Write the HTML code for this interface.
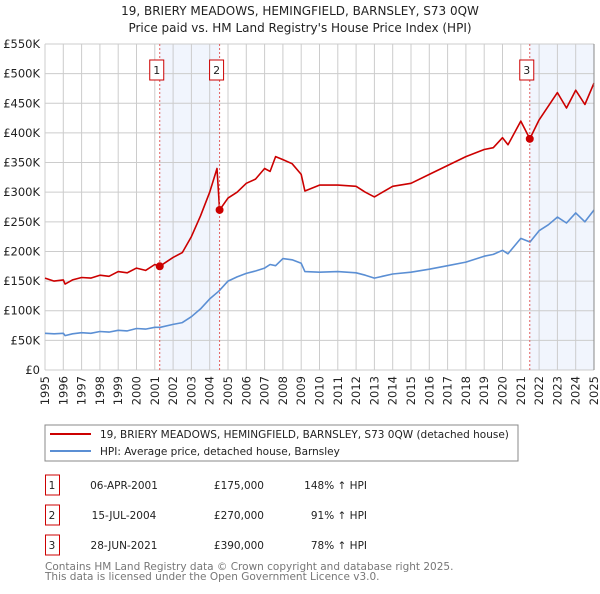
<!DOCTYPE html>
<html><head><meta charset="utf-8"><style>
body{margin:0;background:#fff;font-family:"DejaVu Sans","Liberation Sans",sans-serif;}
svg text{font-family:"DejaVu Sans","Liberation Sans",sans-serif;}
</style></head><body>
<svg id="chart" width="600" height="590" viewBox="0 0 600 590" xmlns="http://www.w3.org/2000/svg">
<text x="300" y="15" text-anchor="middle" font-size="12" fill="#222">19, BRIERY MEADOWS, HEMINGFIELD, BARNSLEY, S73 0QW</text>
<text x="300" y="32" text-anchor="middle" font-size="12" fill="#222">Price paid vs. HM Land Registry's House Price Index (HPI)</text>
<g id="shade"></g><g id="grid"></g><g id="lines"></g><g id="marks"></g><g id="axes"></g>
<rect x="45" y="425" width="473" height="36" fill="#fff" stroke="#888"/>
<line x1="50" y1="434" x2="91" y2="434" stroke="#cc0000" stroke-width="2"/>
<text x="100" y="438" font-size="10.5" fill="#222">19, BRIERY MEADOWS, HEMINGFIELD, BARNSLEY, S73 0QW (detached house)</text>
<line x1="50" y1="451" x2="91" y2="451" stroke="#5b8fd4" stroke-width="2"/>
<text x="100" y="455" font-size="10.5" fill="#222">HPI: Average price, detached house, Barnsley</text>
<g id="table" font-size="11" fill="#222"></g>
<text x="45" y="570" font-size="10.5" fill="#777">Contains HM Land Registry data © Crown copyright and database right 2025.</text>
<text x="45" y="580" font-size="10.5" fill="#777">This data is licensed under the Open Government Licence v3.0.</text>
</svg>
<script>
const hpiYears=[1995,1995.5,1996,1996.1,1996.5,1997,1997.5,1998,1998.5,1999,1999.5,2000,2000.5,2001,2001.3,2002,2002.5,2003,2003.5,2004,2004.5,2005,2005.5,2006,2006.5,2007,2007.3,2007.6,2008,2008.5,2009,2009.2,2010,2011,2012,2012.5,2013,2014,2015,2016,2017,2018,2019,2019.5,2020,2020.3,2021,2021.5,2022,2022.5,2023,2023.5,2024,2024.5,2025];
const hpiValues=[62,61,62,58,61,63,62,65,64,67,66,70,69,72,72,77,80,90,103,120,133,150,157,163,167,172,178,176,188,186,180,166,165,166,164,160,155,162,165,170,176,182,192,195,202,196,222,216,235,245,258,248,265,250,270];
const redYears=[1995,1995.5,1996,1996.1,1996.5,1997,1997.5,1998,1998.5,1999,1999.5,2000,2000.5,2001,2001.27,2002,2002.5,2003,2003.5,2004,2004.4,2004.54,2005,2005.5,2006,2006.5,2007,2007.3,2007.6,2008,2008.5,2009,2009.2,2010,2011,2012,2012.5,2013,2014,2015,2016,2017,2018,2019,2019.5,2020,2020.3,2021,2021.49,2022,2022.5,2023,2023.5,2024,2024.5,2025];
const redValues=[155,150,152,145,152,156,155,160,158,166,164,172,168,178,175,190,198,225,260,300,340,270,290,300,315,322,340,335,360,355,348,330,302,312,312,310,300,292,310,315,330,345,360,372,375,392,380,420,390,422,445,468,442,472,448,484];
const sales=[{n:"1",year:2001.27,v:175,date:"06-APR-2001",price:"£175,000",pct:"148%"},{n:"2",year:2004.54,v:270,date:"15-JUL-2004",price:"£270,000",pct:"91%"},{n:"3",year:2021.49,v:390,date:"28-JUN-2021",price:"£390,000",pct:"78%"}];
const yTicks=[0,50,100,150,200,250,300,350,400,450,500,550];
const xTicks=[1995,1996,1997,1998,1999,2000,2001,2002,2003,2004,2005,2006,2007,2008,2009,2010,2011,2012,2013,2014,2015,2016,2017,2018,2019,2020,2021,2022,2023,2024,2025];
const X0=45,X1=594,Y0=370,Y1=44;
const xs=y=>X0+(y-1995)/30*(X1-X0);
const ys=v=>Y0-v/550*(Y0-Y1);
const NS="http://www.w3.org/2000/svg";
function mk(p,t,a){const e=document.createElementNS(NS,t);for(const k in a)e.setAttribute(k,a[k]);document.getElementById(p).appendChild(e);return e;}
[[sales[0].year,sales[1].year],[sales[2].year,2025]].forEach(r=>{
 const e=mk("shade","rect",{x:xs(r[0]),y:Y1,width:xs(r[1])-xs(r[0]),height:Y0-Y1,fill:"#eef3fc",opacity:"0.8"});
 
 
});
yTicks.forEach(t=>{
 const l=mk("grid","line",{x1:X0,x2:X1,y1:ys(t),y2:ys(t),stroke:"#cccccc","stroke-width":1});
 
 
 const tx=mk("axes","text",{x:40,y:ys(t)+4,"text-anchor":"end","font-size":"11.5",fill:"#222"});
 tx.textContent=t===0?"£0":"£"+t+"K";
 
 
});
xTicks.forEach(t=>{
 const l=mk("grid","line",{x1:xs(t),x2:xs(t),y1:Y1,y2:Y0,stroke:"#cccccc","stroke-width":1});
 
 
 const tx=mk("axes","text",{transform:`translate(${xs(t)+4},${Y0+6}) rotate(-90)`,"text-anchor":"end","font-size":"11.5",fill:"#222"});
 tx.textContent=t;
 
 
});
function path(xa,va,col,name){
 const d=xa.map((x,i)=>(i?"L":"M")+xs(x).toFixed(1)+","+ys(va[i]).toFixed(1)).join("");
 const p=mk("lines","path",{d:d,fill:"none",stroke:col,"stroke-width":1.6,"stroke-linejoin":"round"});
 
 
}
path(hpiYears,hpiValues,"#5b8fd4","hpi-line");
path(redYears,redValues,"#cc0000","price-paid-line");
sales.forEach((s,i)=>{
 const v=mk("marks","line",{x1:xs(s.year),x2:xs(s.year),y1:Y1,y2:Y0,stroke:"#e06060","stroke-dasharray":"2,2","stroke-width":1});
 
 
 const c=mk("marks","circle",{cx:xs(s.year),cy:ys(s.v),r:4,fill:"#cc0000"});
 
 
 const b=mk("marks","rect",{x:xs(s.year)-10,y:60,width:14,height:20,fill:"#fff",stroke:"#cc0000"});
 
 
 const t=mk("marks","text",{x:xs(s.year)-3,y:74,"text-anchor":"middle","font-size":"11",fill:"#222"});
 t.textContent=s.n;
 
 
 const y=475+i*30;
 const rb=mk("table","rect",{x:45.5,y:y,width:14,height:20,fill:"#fff",stroke:"#cc0000"});
 
 
 const cells=[[52,s.n,"middle"],[124,s.date,"middle"],[264,s.price,"end"],[367,s.pct+" ↑ HPI","end"]];
 cells.forEach(c2=>{
  const tt=mk("table","text",{x:c2[0],y:y+14,"text-anchor":c2[2],"font-size":"10.5",fill:"#222"});
  tt.textContent=c2[1];
  
  
 });
});
const fr=mk("axes","line",{x1:X1,x2:X1,y1:Y1,y2:Y0,stroke:"#888"});


</script>
</body></html>
